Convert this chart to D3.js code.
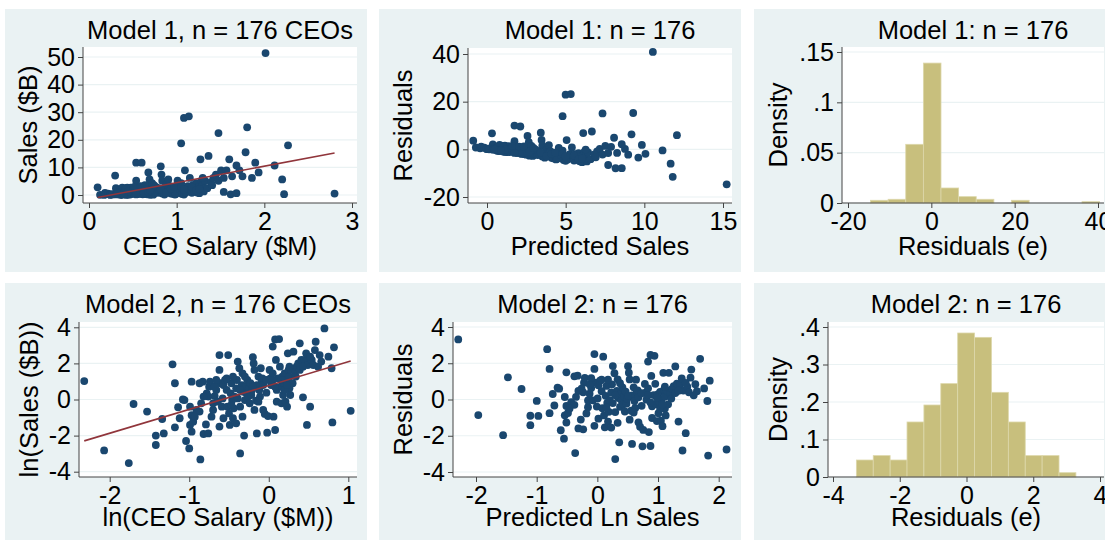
<!DOCTYPE html>
<html>
<head>
<meta charset="utf-8">
<script src="https://cdn.jsdelivr.net/npm/d3@7"></script>
<style>
  body { margin: 0; background: #fff; }
  svg { display: block; font-family: "Liberation Sans", Arial, sans-serif; }
</style>
</head>
<body>
<svg id="chart"></svg>
<script>
const W = 1105, H = 540;

// ln(CEO salary $M), ln(sales $B)
const lnPoints = [
  [-2.32,1.02],[-2.07,-2.82],[-1.76,-3.52],[-1.70,-0.25],[-1.53,-0.67],[-1.42,-2.0],[-1.42,-2.52],
  [-1.34,-1.08],[-1.32,-1.88],[-1.21,1.95],[-1.18,0.90],[-1.18,-1.54],[-1.14,-0.43],[-1.08,0.0],
  [-1.06,-0.03],[-1.04,-2.3],[-1.0,-2.71],[-0.97,0.99],[-0.99,-0.4],[-0.97,-0.87],[-0.99,-1.41],
  [-0.97,-1.78],[-0.95,-1.23],[-0.91,-0.58],[-0.87,-0.67],[-0.86,-3.32],[-0.85,-0.21],[-0.83,0.99],
  [-0.82,-1.91],[-0.79,-1.38],[-0.76,-1.88],[-0.75,0.71],[-0.74,0.99],[-0.78,0.34],[-0.76,0.16],
  [-0.72,-0.95],[-0.70,-0.58],[-0.70,-0.21],[-0.68,0.19],[-0.66,0.53],[-0.64,-0.12],[-0.62,2.46],
  [-0.62,1.64],[-0.61,0.90],[-0.59,-0.40],[-0.58,0.06],[-0.57,-1.04],[-0.57,0.80],[-0.55,1.08],
  [-0.53,0.53],[-0.52,-0.4],[-0.51,2.46],[-0.50,-0.77],[-0.49,-1.41],[-0.48,0.34],[-0.47,0.90],
  [-0.46,-0.03],[-0.45,-1.04],[-0.44,-0.49],[-0.43,0.16],[-0.41,-1.32],[-0.41,0.62],[-0.40,1.08],
  [-0.39,2.1],[-0.37,1.73],[-0.36,-0.4],[-0.36,-2.99],[-0.34,0.80],[-0.33,1.45],[-0.33,-0.95],
  [-0.32,0.43],[-0.31,-2.0],[-0.30,-0.03],[-0.29,0.71],[-0.28,0.34],[-0.27,1.08],[-0.26,0.16],
  [-0.25,0.62],[-0.24,-0.21],[-0.23,0.90],[-0.22,0.25],[-0.21,0.53],[-0.20,2.34],[-0.19,2.0],
  [-0.18,1.64],[-0.18,-0.58],[-0.16,-0.06],[-0.15,0.80],[-0.15,-1.88],[-0.13,1.27],[-0.12,0.53],
  [-0.11,0.16],[-0.10,1.73],[-0.09,1.08],[-0.08,1.17],[-0.07,-0.58],[-0.05,-0.80],[-0.03,0.38],
  [-0.02,-1.84],[-0.01,-0.92],[0.01,1.64],[0.02,1.17],[0.03,0.80],[0.05,1.45],[0.05,2.93],
  [0.06,-0.95],[0.08,-1.69],[0.08,3.33],[0.09,2.19],[0.10,0.53],[0.10,-0.12],[0.12,1.17],
  [0.13,3.35],[0.14,1.82],[0.15,0.71],[0.16,-0.21],[0.17,1.27],[0.18,0.25],[0.19,0.90],
  [0.20,1.45],[0.21,-0.12],[0.22,1.08],[0.23,-0.4],[0.24,2.56],[0.25,1.64],[0.26,0.62],
  [0.26,1.27],[0.27,0.25],[0.28,1.64],[0.30,0.90],[0.31,2.65],[0.33,1.54],[0.35,1.82],
  [0.37,2.0],[0.39,3.11],[0.41,2.19],[0.43,0.12],[0.45,2.19],[0.47,2.56],[0.48,-1.41],
  [0.49,1.91],[0.52,-0.4],[0.54,2.19],[0.56,1.91],[0.58,2.74],[0.59,3.2],[0.66,2.1],
  [0.70,3.94],[0.75,2.37],[0.79,1.73],[0.80,-1.27],[0.82,2.89],[1.03,-0.63],
  [-0.87,0.90],[-0.82,0.16],[-0.68,0.71],[-0.66,1.08],[-0.53,1.17],[-0.47,-0.3],[-0.45,1.27],
  [-0.39,0.06],[-0.36,0.53],[-0.30,1.27],[-0.20,0.71],[-0.13,-0.12],[-0.07,0.80],[-0.03,1.08],
  [0.05,1.08],[0.08,0.71],[0.16,1.08],[0.20,0.53],[0.23,0.80],[0.26,1.82],[0.34,1.27],
  [0.39,1.64],[0.43,1.82],[0.52,2.37],[0.62,1.82],[0.64,2.46],[-1.12,-1.04],[-0.93,-0.95],
  [-0.62,-1.50]
];

// fitted lines
const model1Fit = { a: -1.46, b: 5.96 };   // sales = a + b * salary
const model2Fit = { a: 0.77, b: 1.32 };    // ln sales = a + b * ln salary

// histograms: first bin edge, bin width, densities
const hist1Start = -14.6, hist1Width = 4.23;
const hist1Density = [0.0027, 0.0037, 0.0583, 0.139, 0.0149, 0.0063, 0.0037, 0, 0.0027, 0, 0, 0, 0.0013];
const hist2Start = -3.30, hist2Width = 0.506;
const hist2Density = [0.0453, 0.057, 0.0453, 0.1467, 0.192, 0.249, 0.384, 0.3724, 0.2258, 0.1467, 0.057, 0.057, 0.0115];

const titles = ["Model 1, n = 176 CEOs", "Model 1: n = 176", "Model 1: n = 176",
                "Model 2, n = 176 CEOs", "Model 2: n = 176", "Model 2: n = 176"];
const xTitles = ["CEO Salary ($M)", "Predicted Sales", "Residuals (e)",
                 "ln(CEO Salary ($M))", "Predicted Ln Sales", "Residuals (e)"];
const yTitles = ["Sales ($B)", "Residuals", "Density", "ln(Sales ($B))", "Residuals", "Density"];

const xTicks = [[0, 1, 2, 3], [0, 5, 10, 15], [-20, 0, 20, 40], [-2, -1, 0, 1], [-2, -1, 0, 1, 2], [-4, -2, 0, 2, 4]];
const yTicks = [[0, 10, 20, 30, 40, 50], [-20, 0, 20, 40], [0, 0.05, 0.1, 0.15], [-4, -2, 0, 2, 4], [-4, -2, 0, 2, 4], [0, 0.1, 0.2, 0.3, 0.4]];

const navy = "#1a476f", maroon = "#90353b", khaki = "#c8bf7d", bg = "#eaf2f3";

const svg = d3.select("#chart").attr("width", W).attr("height", H);

const fmt = d => String(+d.toFixed(3)).replace(/^(-?)0\./, "$1.");

// derived series
const model1 = lnPoints.map(([lx, ly]) => {
  const sal = Math.exp(lx), sales = Math.exp(ly);
  const fit = model1Fit.a + model1Fit.b * sal;
  return { sal, sales, fit, res: sales - fit };
});
const model2 = lnPoints.map(([lx, ly]) => {
  const fit = model2Fit.a + model2Fit.b * lx;
  return { lx, ly, fit, res: ly - fit };
});

// layout per panel: box, plot rect [l,t,r,b], scale anchors
const layout = [
  { box: [5, 9, 362, 263], plot: [83, 47, 357, 203], xr: [89, 352], yr: [195, 57], titleY: 39, xTitleY: 255 },
  { box: [379, 9, 362, 263], plot: [468, 48, 732, 203], xr: [487, 723], yr: [197, 54], titleY: 39, xTitleY: 255 },
  { box: [754, 9, 362, 263], plot: [842, 47, 1104, 203], xr: [848, 1098], yr: [203, 52], titleY: 39, xTitleY: 255 },
  { box: [5, 283, 362, 263], plot: [79, 322, 357, 477], xr: [109.7, 348.3], yr: [471.7, 327.3], titleY: 313, xTitleY: 526 },
  { box: [379, 283, 362, 263], plot: [453, 322, 732, 477], xr: [476, 718.7], yr: [472, 327], titleY: 313, xTitleY: 526 },
  { box: [754, 283, 362, 263], plot: [828, 322, 1104, 477], xr: [833, 1100], yr: [477, 327], titleY: 313, xTitleY: 526 }
];

function scatter(g, x, y, pts) {
  g.selectAll(null).data(pts).enter().append("circle")
    .attr("cx", d => x(d[0])).attr("cy", d => y(d[1]))
    .attr("r", 3.9).attr("fill", navy);
}

function fitLine(g, x, y, xs, fit) {
  const x0 = d3.min(xs), x1 = d3.max(xs);
  g.append("line")
    .attr("x1", x(x0)).attr("y1", y(fit.a + fit.b * x0))
    .attr("x2", x(x1)).attr("y2", y(fit.a + fit.b * x1))
    .attr("stroke", maroon).attr("stroke-width", 1.6);
}

function hist(g, x, y, start, width, dens) {
  g.selectAll(null).data(dens).enter().append("rect")
    .attr("x", (d, i) => x(start + i * width))
    .attr("width", x(start + width) - x(start))
    .attr("y", d => y(d))
    .attr("height", d => y(0) - y(d))
    .attr("fill", khaki).attr("stroke", "#ddd8ab").attr("stroke-width", 0.8);
}

const draws = [
  (g, x, y) => {
    scatter(g, x, y, model1.map(d => [d.sal, d.sales]));
    fitLine(g, x, y, model1.map(d => d.sal), model1Fit);
  },
  (g, x, y) => scatter(g, x, y, model1.map(d => [d.fit, d.res])),
  (g, x, y) => hist(g, x, y, hist1Start, hist1Width, hist1Density),
  (g, x, y) => {
    scatter(g, x, y, model2.map(d => [d.lx, d.ly]));
    fitLine(g, x, y, model2.map(d => d.lx), model2Fit);
  },
  (g, x, y) => scatter(g, x, y, model2.map(d => [d.fit, d.res])),
  (g, x, y) => hist(g, x, y, hist2Start, hist2Width, hist2Density)
];

const yTitleX = [37, 412, 787, 38, 412, 787];

layout.forEach((p, i) => {
  const g = svg.append("g");
  const [l, t, r, b] = p.plot;
  g.append("rect").attr("x", p.box[0]).attr("y", p.box[1])
    .attr("width", p.box[2]).attr("height", p.box[3]).attr("fill", bg);
  g.append("rect").attr("x", l).attr("y", t).attr("width", r - l).attr("height", b - t).attr("fill", "#fff");

  const xt = xTicks[i], yt = yTicks[i];
  const x = d3.scaleLinear().domain([xt[0], xt[xt.length - 1]]).range(p.xr);
  const y = d3.scaleLinear().domain([yt[0], yt[yt.length - 1]]).range(p.yr);

  // gridlines
  g.selectAll(null).data(yt).enter().append("line")
    .attr("x1", l).attr("x2", r).attr("y1", d => y(d)).attr("y2", d => y(d))
    .attr("stroke", bg).attr("stroke-width", 1.2);

  draws[i](g, x, y);

  const xa = g.append("g").attr("transform", `translate(0,${b})`)
    .call(d3.axisBottom(x).tickValues(xt).tickFormat(fmt).tickSize(5).tickPadding(4));
  const ya = g.append("g").attr("transform", `translate(${l},0)`)
    .call(d3.axisLeft(y).tickValues(yt).tickFormat(fmt).tickSize(5).tickPadding(3));
  [xa, ya].forEach(a => {
    a.select(".domain").remove();
    a.selectAll("line").attr("stroke", "#444");
    a.selectAll("text").attr("fill", "#000").style("font-size", "25px")
      .style("font-family", '"Liberation Sans", Arial, sans-serif');
  });
  g.append("line").attr("x1", l).attr("x2", r).attr("y1", b).attr("y2", b).attr("stroke", "#444");
  g.append("line").attr("x1", l).attr("x2", l).attr("y1", t).attr("y2", b).attr("stroke", "#444");

  g.append("text").attr("x", (l + r) / 2).attr("y", p.titleY)
    .attr("text-anchor", "middle").style("font-size", "25.5px").text(titles[i]);
  g.append("text").attr("x", (l + r) / 2).attr("y", p.xTitleY)
    .attr("text-anchor", "middle").style("font-size", "25.5px").text(xTitles[i]);
  g.append("text").attr("transform", `translate(${yTitleX[i]},${(t + b) / 2}) rotate(-90)`)
    .attr("text-anchor", "middle").style("font-size", "25.5px").text(yTitles[i]);
});
</script>
</body>
</html>
